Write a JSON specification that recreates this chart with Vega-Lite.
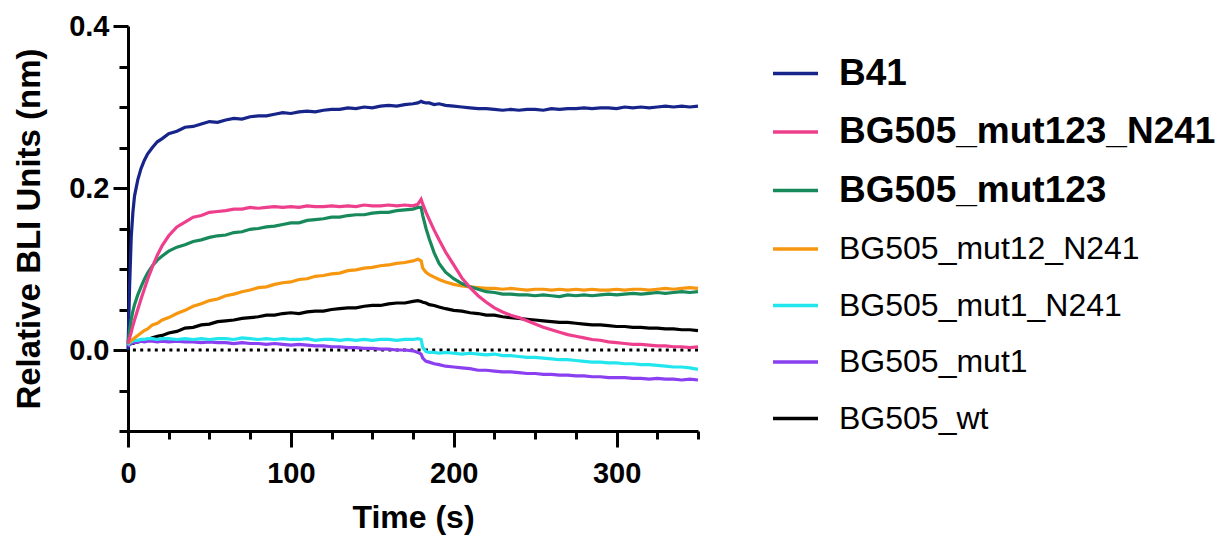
{
  "$schema": "https://vega.github.io/schema/vega-lite/v6.json",
  "width": 570,
  "height": 405,
  "autosize": {"type": "none"},
  "padding": {"left": 128, "top": 26, "right": 533, "bottom": 109},
  "background": "white",
  "config": {"view": {"stroke": null}, "font": "Liberation Sans"},
  "datasets": {
    "zero": [{"y": 0}],
    "B41": [{"t":0,"v":0},{"t":1,"v":0.08},{"t":2,"v":0.14},{"t":3,"v":0.17},{"t":4,"v":0.19},{"t":6,"v":0.21},{"t":8,"v":0.224},{"t":10,"v":0.234},{"t":12,"v":0.242},{"t":15,"v":0.25},{"t":18,"v":0.257},{"t":21,"v":0.261},{"t":25,"v":0.267},{"t":30,"v":0.27},{"t":35,"v":0.275},{"t":40,"v":0.276},{"t":45,"v":0.279},{"t":50,"v":0.282},{"t":55,"v":0.281},{"t":60,"v":0.284},{"t":65,"v":0.286},{"t":70,"v":0.285},{"t":75,"v":0.288},{"t":80,"v":0.289},{"t":85,"v":0.289},{"t":90,"v":0.291},{"t":95,"v":0.293},{"t":100,"v":0.292},{"t":105,"v":0.294},{"t":110,"v":0.295},{"t":115,"v":0.294},{"t":120,"v":0.296},{"t":125,"v":0.297},{"t":130,"v":0.297},{"t":135,"v":0.299},{"t":140,"v":0.298},{"t":145,"v":0.3},{"t":150,"v":0.299},{"t":155,"v":0.301},{"t":160,"v":0.302},{"t":165,"v":0.301},{"t":170,"v":0.303},{"t":175,"v":0.304},{"t":178,"v":0.305},{"t":180,"v":0.307},{"t":181,"v":0.306},{"t":183,"v":0.305},{"t":185,"v":0.305},{"t":188,"v":0.303},{"t":191,"v":0.304},{"t":195,"v":0.302},{"t":200,"v":0.301},{"t":205,"v":0.3},{"t":210,"v":0.299},{"t":215,"v":0.298},{"t":220,"v":0.298},{"t":225,"v":0.297},{"t":230,"v":0.296},{"t":235,"v":0.297},{"t":240,"v":0.296},{"t":245,"v":0.297},{"t":250,"v":0.297},{"t":255,"v":0.296},{"t":260,"v":0.298},{"t":265,"v":0.297},{"t":270,"v":0.298},{"t":275,"v":0.298},{"t":280,"v":0.299},{"t":285,"v":0.298},{"t":290,"v":0.299},{"t":295,"v":0.299},{"t":300,"v":0.298},{"t":305,"v":0.3},{"t":310,"v":0.299},{"t":315,"v":0.3},{"t":320,"v":0.299},{"t":325,"v":0.3},{"t":330,"v":0.301},{"t":335,"v":0.3},{"t":340,"v":0.301},{"t":345,"v":0.3},{"t":350,"v":0.301}],
    "wt": [{"t":0,"v":0.006},{"t":1,"v":0.007},{"t":2,"v":0.008},{"t":3,"v":0.008},{"t":4,"v":0.009},{"t":6,"v":0.01},{"t":8,"v":0.011},{"t":10,"v":0.012},{"t":12,"v":0.013},{"t":15,"v":0.015},{"t":18,"v":0.017},{"t":21,"v":0.018},{"t":25,"v":0.021},{"t":30,"v":0.023},{"t":35,"v":0.027},{"t":40,"v":0.028},{"t":45,"v":0.031},{"t":50,"v":0.032},{"t":55,"v":0.035},{"t":60,"v":0.036},{"t":65,"v":0.037},{"t":70,"v":0.039},{"t":75,"v":0.04},{"t":80,"v":0.041},{"t":85,"v":0.043},{"t":90,"v":0.043},{"t":95,"v":0.045},{"t":100,"v":0.046},{"t":105,"v":0.045},{"t":110,"v":0.047},{"t":115,"v":0.048},{"t":120,"v":0.048},{"t":125,"v":0.05},{"t":130,"v":0.051},{"t":135,"v":0.052},{"t":140,"v":0.052},{"t":145,"v":0.054},{"t":150,"v":0.055},{"t":155,"v":0.055},{"t":160,"v":0.057},{"t":165,"v":0.058},{"t":170,"v":0.058},{"t":175,"v":0.06},{"t":178,"v":0.061},{"t":180,"v":0.06},{"t":181,"v":0.059},{"t":183,"v":0.058},{"t":185,"v":0.056},{"t":188,"v":0.055},{"t":191,"v":0.053},{"t":195,"v":0.051},{"t":200,"v":0.049},{"t":205,"v":0.048},{"t":210,"v":0.046},{"t":215,"v":0.045},{"t":220,"v":0.043},{"t":225,"v":0.043},{"t":230,"v":0.041},{"t":235,"v":0.04},{"t":240,"v":0.039},{"t":245,"v":0.038},{"t":250,"v":0.037},{"t":255,"v":0.036},{"t":260,"v":0.035},{"t":265,"v":0.034},{"t":270,"v":0.034},{"t":275,"v":0.033},{"t":280,"v":0.032},{"t":285,"v":0.031},{"t":290,"v":0.031},{"t":295,"v":0.03},{"t":300,"v":0.029},{"t":305,"v":0.029},{"t":310,"v":0.028},{"t":315,"v":0.028},{"t":320,"v":0.027},{"t":325,"v":0.027},{"t":330,"v":0.026},{"t":335,"v":0.026},{"t":340,"v":0.025},{"t":345,"v":0.025},{"t":350,"v":0.024}],
    "mut1": [{"t":0,"v":0.004},{"t":1,"v":0.007},{"t":2,"v":0.008},{"t":3,"v":0.009},{"t":4,"v":0.009},{"t":6,"v":0.01},{"t":8,"v":0.011},{"t":10,"v":0.01},{"t":12,"v":0.011},{"t":15,"v":0.011},{"t":18,"v":0.01},{"t":21,"v":0.011},{"t":25,"v":0.01},{"t":30,"v":0.011},{"t":35,"v":0.01},{"t":40,"v":0.01},{"t":45,"v":0.009},{"t":50,"v":0.01},{"t":55,"v":0.009},{"t":60,"v":0.009},{"t":65,"v":0.008},{"t":70,"v":0.009},{"t":75,"v":0.008},{"t":80,"v":0.008},{"t":85,"v":0.007},{"t":90,"v":0.008},{"t":95,"v":0.007},{"t":100,"v":0.006},{"t":105,"v":0.007},{"t":110,"v":0.006},{"t":115,"v":0.005},{"t":120,"v":0.005},{"t":125,"v":0.004},{"t":130,"v":0.004},{"t":135,"v":0.003},{"t":140,"v":0.003},{"t":145,"v":0.002},{"t":150,"v":0.002},{"t":155,"v":0.001},{"t":160,"v":0.001},{"t":165,"v":0},{"t":170,"v":0},{"t":175,"v":-0.001},{"t":178,"v":-0.003},{"t":180,"v":-0.005},{"t":181,"v":-0.01},{"t":183,"v":-0.014},{"t":185,"v":-0.015},{"t":188,"v":-0.017},{"t":191,"v":-0.018},{"t":195,"v":-0.02},{"t":200,"v":-0.021},{"t":205,"v":-0.022},{"t":210,"v":-0.023},{"t":215,"v":-0.025},{"t":220,"v":-0.025},{"t":225,"v":-0.026},{"t":230,"v":-0.027},{"t":235,"v":-0.027},{"t":240,"v":-0.028},{"t":245,"v":-0.029},{"t":250,"v":-0.029},{"t":255,"v":-0.03},{"t":260,"v":-0.03},{"t":265,"v":-0.031},{"t":270,"v":-0.031},{"t":275,"v":-0.032},{"t":280,"v":-0.032},{"t":285,"v":-0.033},{"t":290,"v":-0.033},{"t":295,"v":-0.034},{"t":300,"v":-0.034},{"t":305,"v":-0.034},{"t":310,"v":-0.035},{"t":315,"v":-0.035},{"t":320,"v":-0.036},{"t":325,"v":-0.035},{"t":330,"v":-0.036},{"t":335,"v":-0.036},{"t":340,"v":-0.037},{"t":345,"v":-0.036},{"t":350,"v":-0.037}],
    "mut1_N241": [{"t":0,"v":0.006},{"t":1,"v":0.009},{"t":2,"v":0.01},{"t":3,"v":0.011},{"t":4,"v":0.012},{"t":6,"v":0.012},{"t":8,"v":0.013},{"t":10,"v":0.013},{"t":12,"v":0.014},{"t":15,"v":0.014},{"t":18,"v":0.013},{"t":21,"v":0.014},{"t":25,"v":0.014},{"t":30,"v":0.013},{"t":35,"v":0.014},{"t":40,"v":0.013},{"t":45,"v":0.014},{"t":50,"v":0.013},{"t":55,"v":0.014},{"t":60,"v":0.014},{"t":65,"v":0.013},{"t":70,"v":0.015},{"t":75,"v":0.014},{"t":80,"v":0.013},{"t":85,"v":0.014},{"t":90,"v":0.013},{"t":95,"v":0.014},{"t":100,"v":0.013},{"t":105,"v":0.013},{"t":110,"v":0.014},{"t":115,"v":0.012},{"t":120,"v":0.013},{"t":125,"v":0.013},{"t":130,"v":0.012},{"t":135,"v":0.013},{"t":140,"v":0.012},{"t":145,"v":0.013},{"t":150,"v":0.012},{"t":155,"v":0.013},{"t":160,"v":0.013},{"t":165,"v":0.012},{"t":170,"v":0.013},{"t":175,"v":0.013},{"t":178,"v":0.014},{"t":180,"v":0.013},{"t":181,"v":0.003},{"t":183,"v":-0.002},{"t":185,"v":-0.003},{"t":188,"v":-0.003},{"t":191,"v":-0.004},{"t":195,"v":-0.003},{"t":200,"v":-0.004},{"t":205,"v":-0.005},{"t":210,"v":-0.004},{"t":215,"v":-0.005},{"t":220,"v":-0.006},{"t":225,"v":-0.005},{"t":230,"v":-0.007},{"t":235,"v":-0.007},{"t":240,"v":-0.008},{"t":245,"v":-0.009},{"t":250,"v":-0.009},{"t":255,"v":-0.01},{"t":260,"v":-0.011},{"t":265,"v":-0.012},{"t":270,"v":-0.012},{"t":275,"v":-0.013},{"t":280,"v":-0.014},{"t":285,"v":-0.015},{"t":290,"v":-0.015},{"t":295,"v":-0.016},{"t":300,"v":-0.016},{"t":305,"v":-0.017},{"t":310,"v":-0.017},{"t":315,"v":-0.018},{"t":320,"v":-0.018},{"t":325,"v":-0.019},{"t":330,"v":-0.02},{"t":335,"v":-0.021},{"t":340,"v":-0.021},{"t":345,"v":-0.022},{"t":350,"v":-0.024}],
    "mut12_N241": [{"t":0,"v":0.008},{"t":1,"v":0.01},{"t":2,"v":0.012},{"t":3,"v":0.013},{"t":4,"v":0.015},{"t":6,"v":0.018},{"t":8,"v":0.021},{"t":10,"v":0.024},{"t":12,"v":0.026},{"t":15,"v":0.031},{"t":18,"v":0.033},{"t":21,"v":0.037},{"t":25,"v":0.04},{"t":30,"v":0.045},{"t":35,"v":0.049},{"t":40,"v":0.054},{"t":45,"v":0.057},{"t":50,"v":0.061},{"t":55,"v":0.063},{"t":60,"v":0.067},{"t":65,"v":0.069},{"t":70,"v":0.072},{"t":75,"v":0.074},{"t":80,"v":0.077},{"t":85,"v":0.078},{"t":90,"v":0.081},{"t":95,"v":0.083},{"t":100,"v":0.084},{"t":105,"v":0.087},{"t":110,"v":0.088},{"t":115,"v":0.091},{"t":120,"v":0.092},{"t":125,"v":0.094},{"t":130,"v":0.095},{"t":135,"v":0.098},{"t":140,"v":0.099},{"t":145,"v":0.101},{"t":150,"v":0.102},{"t":155,"v":0.104},{"t":160,"v":0.105},{"t":165,"v":0.107},{"t":170,"v":0.108},{"t":175,"v":0.11},{"t":178,"v":0.112},{"t":180,"v":0.11},{"t":181,"v":0.101},{"t":183,"v":0.096},{"t":185,"v":0.093},{"t":188,"v":0.09},{"t":191,"v":0.087},{"t":195,"v":0.084},{"t":200,"v":0.081},{"t":205,"v":0.079},{"t":210,"v":0.078},{"t":215,"v":0.077},{"t":220,"v":0.076},{"t":225,"v":0.076},{"t":230,"v":0.075},{"t":235,"v":0.076},{"t":240,"v":0.075},{"t":245,"v":0.074},{"t":250,"v":0.075},{"t":255,"v":0.075},{"t":260,"v":0.074},{"t":265,"v":0.075},{"t":270,"v":0.074},{"t":275,"v":0.075},{"t":280,"v":0.074},{"t":285,"v":0.075},{"t":290,"v":0.074},{"t":295,"v":0.074},{"t":300,"v":0.075},{"t":305,"v":0.074},{"t":310,"v":0.075},{"t":315,"v":0.075},{"t":320,"v":0.074},{"t":325,"v":0.075},{"t":330,"v":0.076},{"t":335,"v":0.075},{"t":340,"v":0.076},{"t":345,"v":0.077},{"t":350,"v":0.076}],
    "mut123": [{"t":0,"v":0.008},{"t":1,"v":0.025},{"t":2,"v":0.038},{"t":3,"v":0.048},{"t":4,"v":0.056},{"t":6,"v":0.068},{"t":8,"v":0.078},{"t":10,"v":0.087},{"t":12,"v":0.095},{"t":15,"v":0.104},{"t":18,"v":0.111},{"t":21,"v":0.116},{"t":25,"v":0.122},{"t":30,"v":0.127},{"t":35,"v":0.13},{"t":40,"v":0.134},{"t":45,"v":0.136},{"t":50,"v":0.139},{"t":55,"v":0.141},{"t":60,"v":0.142},{"t":65,"v":0.145},{"t":70,"v":0.146},{"t":75,"v":0.149},{"t":80,"v":0.15},{"t":85,"v":0.152},{"t":90,"v":0.153},{"t":95,"v":0.155},{"t":100,"v":0.157},{"t":105,"v":0.157},{"t":110,"v":0.16},{"t":115,"v":0.161},{"t":120,"v":0.162},{"t":125,"v":0.164},{"t":130,"v":0.164},{"t":135,"v":0.166},{"t":140,"v":0.167},{"t":145,"v":0.167},{"t":150,"v":0.169},{"t":155,"v":0.17},{"t":160,"v":0.17},{"t":165,"v":0.172},{"t":170,"v":0.173},{"t":175,"v":0.174},{"t":178,"v":0.176},{"t":180,"v":0.176},{"t":181,"v":0.166},{"t":183,"v":0.15},{"t":185,"v":0.137},{"t":188,"v":0.12},{"t":191,"v":0.107},{"t":195,"v":0.096},{"t":200,"v":0.088},{"t":205,"v":0.082},{"t":210,"v":0.078},{"t":215,"v":0.075},{"t":220,"v":0.072},{"t":225,"v":0.071},{"t":230,"v":0.069},{"t":235,"v":0.069},{"t":240,"v":0.068},{"t":245,"v":0.068},{"t":250,"v":0.067},{"t":255,"v":0.068},{"t":260,"v":0.067},{"t":265,"v":0.066},{"t":270,"v":0.068},{"t":275,"v":0.067},{"t":280,"v":0.068},{"t":285,"v":0.067},{"t":290,"v":0.068},{"t":295,"v":0.069},{"t":300,"v":0.068},{"t":305,"v":0.069},{"t":310,"v":0.07},{"t":315,"v":0.069},{"t":320,"v":0.07},{"t":325,"v":0.071},{"t":330,"v":0.07},{"t":335,"v":0.071},{"t":340,"v":0.072},{"t":345,"v":0.071},{"t":350,"v":0.072}],
    "mut123_N241": [{"t":0,"v":0.008},{"t":1,"v":0.015},{"t":2,"v":0.022},{"t":3,"v":0.03},{"t":4,"v":0.037},{"t":6,"v":0.05},{"t":8,"v":0.063},{"t":10,"v":0.075},{"t":12,"v":0.087},{"t":15,"v":0.103},{"t":18,"v":0.117},{"t":21,"v":0.129},{"t":25,"v":0.141},{"t":30,"v":0.152},{"t":35,"v":0.158},{"t":40,"v":0.164},{"t":45,"v":0.166},{"t":50,"v":0.17},{"t":55,"v":0.171},{"t":60,"v":0.172},{"t":65,"v":0.174},{"t":70,"v":0.174},{"t":75,"v":0.176},{"t":80,"v":0.175},{"t":85,"v":0.176},{"t":90,"v":0.177},{"t":95,"v":0.176},{"t":100,"v":0.177},{"t":105,"v":0.176},{"t":110,"v":0.178},{"t":115,"v":0.177},{"t":120,"v":0.177},{"t":125,"v":0.178},{"t":130,"v":0.177},{"t":135,"v":0.178},{"t":140,"v":0.177},{"t":145,"v":0.179},{"t":150,"v":0.178},{"t":155,"v":0.178},{"t":160,"v":0.179},{"t":165,"v":0.178},{"t":170,"v":0.179},{"t":175,"v":0.178},{"t":178,"v":0.18},{"t":180,"v":0.186},{"t":181,"v":0.18},{"t":183,"v":0.17},{"t":185,"v":0.161},{"t":188,"v":0.148},{"t":191,"v":0.136},{"t":195,"v":0.121},{"t":200,"v":0.105},{"t":205,"v":0.089},{"t":210,"v":0.077},{"t":215,"v":0.067},{"t":220,"v":0.059},{"t":225,"v":0.052},{"t":230,"v":0.047},{"t":235,"v":0.043},{"t":240,"v":0.04},{"t":245,"v":0.036},{"t":250,"v":0.032},{"t":255,"v":0.028},{"t":260,"v":0.025},{"t":265,"v":0.022},{"t":270,"v":0.019},{"t":275,"v":0.017},{"t":280,"v":0.015},{"t":285,"v":0.013},{"t":290,"v":0.012},{"t":295,"v":0.01},{"t":300,"v":0.009},{"t":305,"v":0.008},{"t":310,"v":0.007},{"t":315,"v":0.007},{"t":320,"v":0.006},{"t":325,"v":0.005},{"t":330,"v":0.005},{"t":335,"v":0.004},{"t":340,"v":0.004},{"t":345,"v":0.003},{"t":350,"v":0.004}]
  },
  "layer": [
    {
      "data": {"name": "zero"},
      "mark": {"type": "rule", "color": "black", "strokeWidth": 3, "strokeDash": [3, 4.3]},
      "encoding": {
        "y": {
          "field": "y", "type": "quantitative",
          "scale": {"domain": [-0.1, 0.4], "nice": false, "zero": false},
          "axis": {
            "values": [-0.1, -0.05, 0, 0.05, 0.1, 0.15, 0.2, 0.25, 0.3, 0.35, 0.4],
            "labelExpr": "indexof([0, 0.2, 0.4], datum.value) >= 0 ? format(datum.value, '.1f') : ''",
            "tickSize": {"condition": {"test": "indexof([0, 0.2, 0.4], datum.value) >= 0", "value": 15}, "value": 9},
            "tickWidth": 3, "domainWidth": 3, "tickColor": "black", "domainColor": "black",
            "labelFontSize": 29, "labelFontWeight": "bold", "labelColor": "black", "labelFont": "Liberation Sans",
            "labelPadding": 4,
            "title": "Relative BLI Units (nm)", "titleFontSize": 33, "titleFontWeight": "bold", "titleColor": "black", "titleFont": "Liberation Sans",
            "titlePadding": 22, "grid": false
          }
        }
      }
    },
    {
      "data": {"name": "B41"},
      "mark": {"type": "line", "strokeWidth": 3.2},
      "encoding": {
        "x": {
          "field": "t", "type": "quantitative",
          "scale": {"domain": [0, 350], "nice": false},
          "axis": {
            "values": [0, 25, 50, 75, 100, 125, 150, 175, 200, 225, 250, 275, 300, 325, 350],
            "labelExpr": "datum.value % 100 == 0 ? datum.label : ''",
            "tickSize": {"condition": {"test": "datum.value % 100 == 0", "value": 16}, "value": 8},
            "tickWidth": 3, "domainWidth": 3, "tickColor": "black", "domainColor": "black",
            "labelFontSize": 29, "labelFontWeight": "bold", "labelColor": "black", "labelFont": "Liberation Sans",
            "labelPadding": 12,
            "title": "Time (s)", "titleFontSize": 32, "titleFontWeight": "bold", "titleColor": "black", "titleFont": "Liberation Sans",
            "titlePadding": 14, "grid": false, "labelFlush": false
          }
        },
        "y": {"field": "v", "type": "quantitative"},
        "color": {
          "datum": "B41",
          "scale": {
            "domain": ["B41", "BG505_mut123_N241", "BG505_mut123", "BG505_mut12_N241", "BG505_mut1_N241", "BG505_mut1", "BG505_wt"],
            "range": ["#17248a", "#ee3f8c", "#17895a", "#f7960f", "#22e6ee", "#8a3ff0", "#000000"]
          },
          "legend": {
            "orient": "none", "legendX": 643, "legendY": 23, "title": null, "padding": 0,
            "symbolType": "stroke", "symbolSize": 2025, "symbolStrokeWidth": 3.5,
            "labelFontSize": 32, "labelLimit": 600, "labelOffset": 19, "rowPadding": 15.5,
            "labelColor": "black", "labelFont": "Liberation Sans",
            "encode": {
              "labels": {
                "update": {
                  "fontWeight": {"signal": "indexof(['B41','BG505_mut123_N241','BG505_mut123'], datum.label) >= 0 ? 'bold' : 'normal'"},
                  "fontSize": {"signal": "indexof(['B41','BG505_mut123_N241','BG505_mut123'], datum.label) >= 0 ? 37 : 32"}
                }
              }
            }
          }
        }
      }
    },
    {"data": {"name": "wt"}, "mark": {"type": "line", "strokeWidth": 3.2}, "encoding": {"x": {"field": "t", "type": "quantitative"}, "y": {"field": "v", "type": "quantitative"}, "color": {"datum": "BG505_wt"}}},
    {"data": {"name": "mut1"}, "mark": {"type": "line", "strokeWidth": 3.2}, "encoding": {"x": {"field": "t", "type": "quantitative"}, "y": {"field": "v", "type": "quantitative"}, "color": {"datum": "BG505_mut1"}}},
    {"data": {"name": "mut1_N241"}, "mark": {"type": "line", "strokeWidth": 3.2}, "encoding": {"x": {"field": "t", "type": "quantitative"}, "y": {"field": "v", "type": "quantitative"}, "color": {"datum": "BG505_mut1_N241"}}},
    {"data": {"name": "mut12_N241"}, "mark": {"type": "line", "strokeWidth": 3.2}, "encoding": {"x": {"field": "t", "type": "quantitative"}, "y": {"field": "v", "type": "quantitative"}, "color": {"datum": "BG505_mut12_N241"}}},
    {"data": {"name": "mut123"}, "mark": {"type": "line", "strokeWidth": 3.2}, "encoding": {"x": {"field": "t", "type": "quantitative"}, "y": {"field": "v", "type": "quantitative"}, "color": {"datum": "BG505_mut123"}}},
    {"data": {"name": "mut123_N241"}, "mark": {"type": "line", "strokeWidth": 3.2}, "encoding": {"x": {"field": "t", "type": "quantitative"}, "y": {"field": "v", "type": "quantitative"}, "color": {"datum": "BG505_mut123_N241"}}}
  ]
}
